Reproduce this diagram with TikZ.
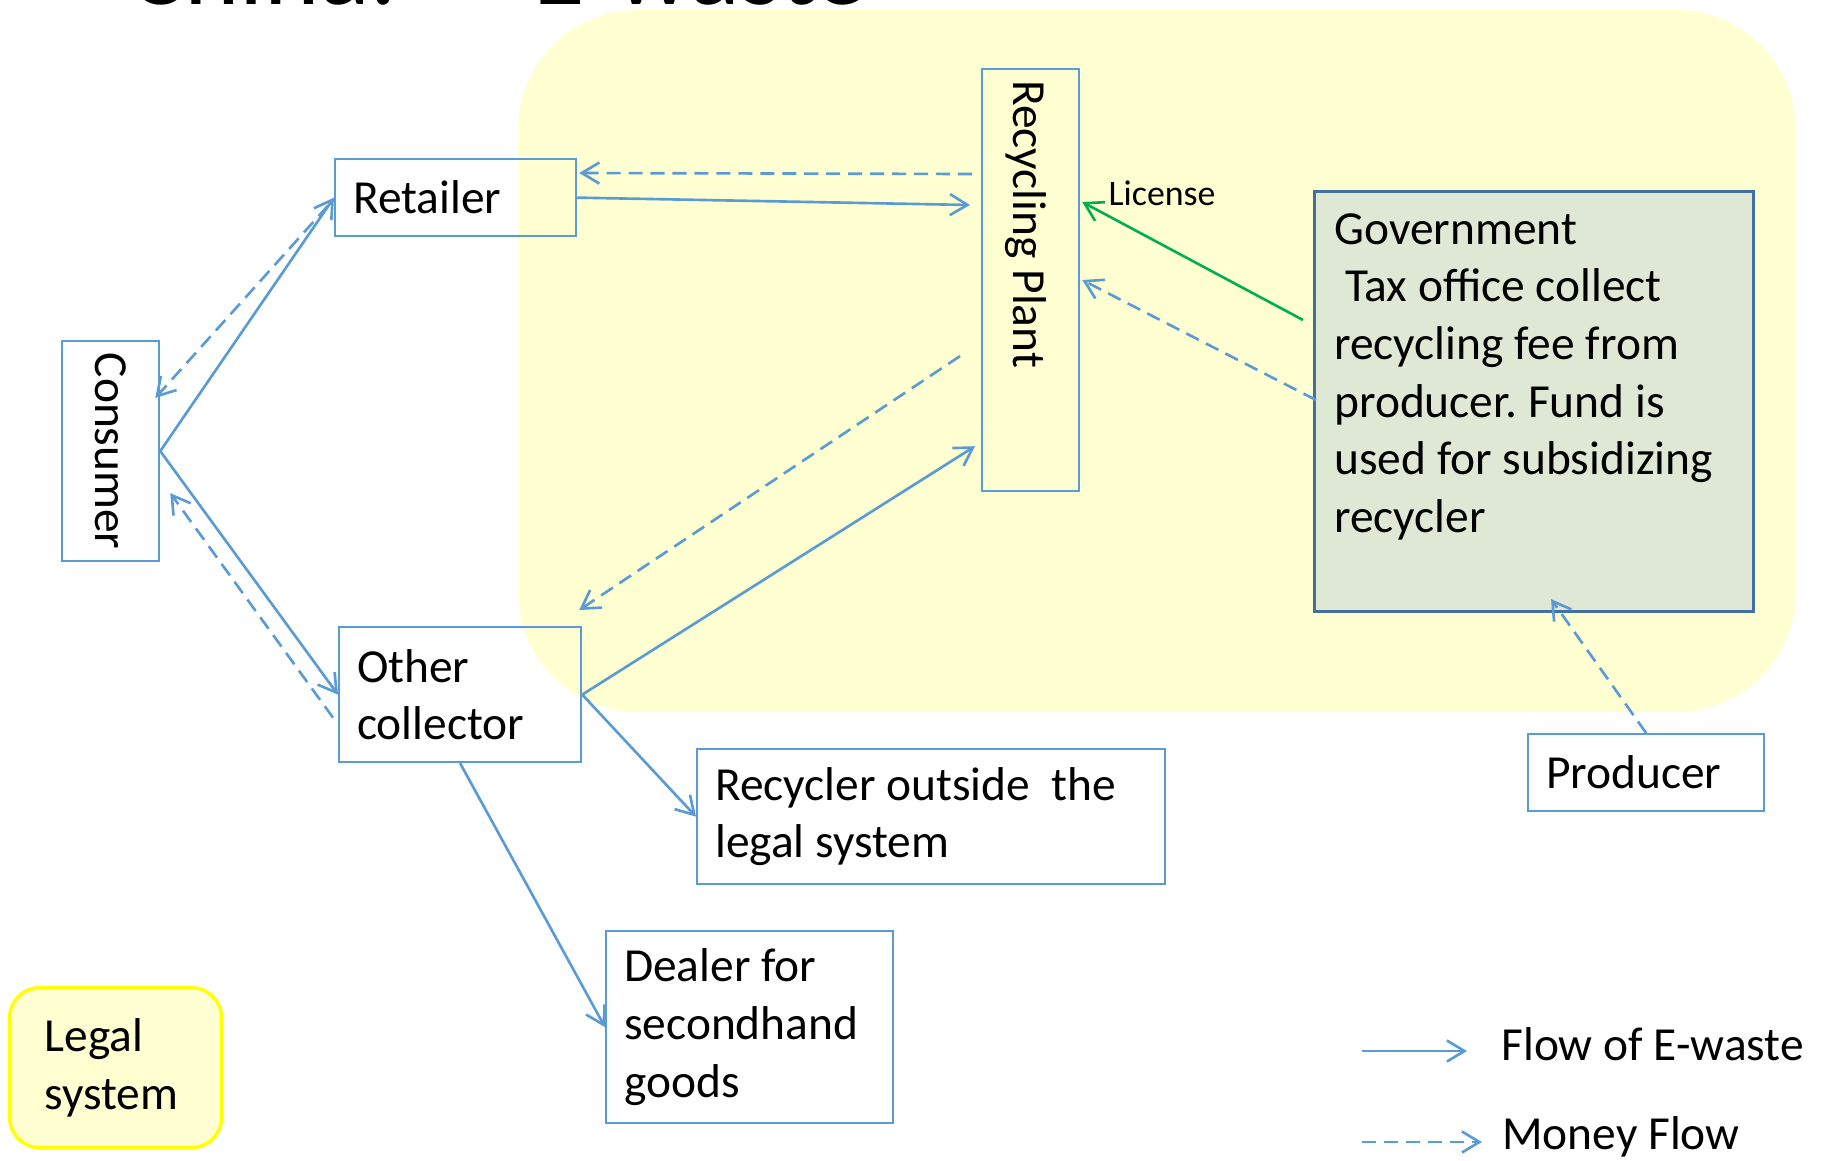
\documentclass[tikz,border=0pt]{standalone}
\usepackage{fontspec}
\setmainfont{Carlito}
\usepackage{tikz}
\usetikzlibrary{positioning, arrows.meta, calc}
\definecolor{ewBlue}{HTML}{5B9BD5}
\definecolor{ewGreen}{HTML}{00B050}
\definecolor{ewArea}{HTML}{FFFFD1}
\definecolor{ewLegalLine}{HTML}{FFFF00}
\definecolor{ewGovFill}{HTML}{DEE8D5}
\definecolor{ewGovLine}{HTML}{41719C}

\begin{document}
\frenchspacing
\begin{tikzpicture}[
    x=0.02cm, y=-0.02cm,
    font=\fontsize{27}{32.8}\selectfont,
    box/.style={
      rectangle, draw=ewBlue, line width=1.3pt, anchor=north west,
      align=flush left, inner xsep=0.36cm, inner ysep=0pt
    },
    govBox/.style={rectangle, draw=ewGovLine, line width=1.8pt, fill=ewGovFill, anchor=north west},
    legalBox/.style={box, draw=ewLegalLine, fill=ewArea, line width=1.9pt, rounded corners=0.6cm, inner xsep=0.7cm},
    titleText/.style={anchor=base west, inner sep=0pt, font=\fontsize{60}{72}\selectfont},
    flowEdge/.style={-{Straight Barb[length=10pt, width=12pt]}, line width=1.5pt, color=ewBlue},
    moneyEdge/.style={flowEdge, dash pattern=on 8pt off 4.5pt},
    licenseEdge/.style={flowEdge, color=ewGreen}
  ]
  \useasboundingbox (0,0) rectangle (1829,1160);

  % --- LEGAL SYSTEM AREA ---
  \fill[ewArea, rounded corners=2.4cm] (518,10) rectangle (1796,712);

  % --- TITLE (cut off by the page) ---
  \node[titleText] (titleChina) at (128,4) {China:};
  \node[titleText] (titleWaste) at (533,4) {E-waste};

  % --- ACTORS ---
  \node[box, minimum width=1.94cm, minimum height=4.40cm] (consumer) at (61,340) {\rotatebox{-90}{Consumer}};
  \node[box, minimum width=4.82cm, minimum height=1.54cm, text width=4.10cm] (retailer) at (334,158) {Retailer};
  \node[box, minimum width=4.84cm, minimum height=2.70cm, text width=4.12cm] (collector) at (338,626) {Other\\collector};
  \node[box, minimum width=1.94cm, minimum height=8.44cm] (recycling) at (981,68) {};
  \node[rotate=-90, anchor=west, inner sep=0pt] (recyclingTxt) at ([shift={(-5,12)}]recycling.north) {Recycling Plant};
  \node[box, minimum width=9.36cm, minimum height=2.70cm, text width=8.64cm] (outsider) at (696,748) {Recycler outside~ the\\legal system};
  \node[box, minimum width=5.74cm, minimum height=3.84cm, text width=5.02cm] (dealer) at (605,930) {Dealer for\\secondhand\\goods};
  \node[box, minimum width=4.72cm, minimum height=1.54cm, text width=4.00cm] (producer) at (1527,733) {Producer};

  % --- GOVERNMENT ---
  \node[govBox, minimum width=8.78cm, minimum height=8.40cm] (gov) at (1313,190) {};
  \node[anchor=north west, align=flush left, inner sep=0pt] (govTxt) at ([shift={(21,23)}]gov.north west)
    {Government\\\ Tax office collect\\recycling fee from\\producer. Fund is\\used for subsidizing\\recycler};

  \node[legalBox, minimum width=4.24cm, minimum height=3.20cm, text width=2.84cm] (legal) at (8,986) {Legal\\system};

  % --- CONSUMER LINKS ---
  \draw[flowEdge] (consumer.east) -- (retailer.west);
  \draw[moneyEdge] ([shift={(-6,8)}]retailer.west) -- ([shift={(-5,58)}]consumer.north east);
  \draw[flowEdge] (consumer.east) -- (collector.west);
  \draw[moneyEdge] ([shift={(-5,23)}]collector.west) -- ([shift={(10,42)}]consumer.east);

  % --- TO THE RECYCLING PLANT ---
  \draw[flowEdge] (retailer.east) -- ([shift={(-11,137)}]recycling.north west);
  \draw[moneyEdge] ([shift={(-9,106)}]recycling.north west) -- ([shift={(2,15)}]retailer.north east);
  \draw[flowEdge] (collector.east) -- ([shift={(-6,-46)}]recycling.south west);
  \draw[moneyEdge] ([shift={(-21,76)}]recycling.west) -- ([shift={(-3,-16)}]collector.north east);

  % --- OUTSIDE THE LEGAL SYSTEM ---
  \draw[flowEdge] (collector.east) -- (outsider.west);
  \draw[flowEdge] (collector.south) -- (dealer.west);

  % --- GOVERNMENT LINKS ---
  \draw[licenseEdge] ([shift={(-10,130)}]gov.north west) -- ([shift={(2,134)}]recycling.north east);
  \node[anchor=base west, inner sep=0pt, font=\fontsize{20.4}{24}\selectfont] (licenseLbl)
    at ([shift={(28,137)}]recycling.north east) {License};
  \draw[moneyEdge] ([shift={(3,210)}]gov.north west) -- ([shift={(2,212)}]recycling.north east);
  \draw[moneyEdge] (producer.north) -- ([shift={(17,-14)}]gov.south);

  % --- LEGEND ---
  \coordinate (flowStart) at (1362,1051);
  \coordinate (flowEnd) at (1467,1051);
  \draw[flowEdge] (flowStart) -- (flowEnd);
  \node[anchor=base west, inner sep=0pt] (flowLbl) at (1501,1060) {Flow of E-waste};
  \coordinate (moneyStart) at (1362,1142);
  \coordinate (moneyEnd) at (1482,1142);
  \draw[moneyEdge] (moneyStart) -- (moneyEnd);
  \node[anchor=base west, inner sep=0pt] (moneyLbl) at (1502,1149) {Money Flow};
\end{tikzpicture}
\end{document}
